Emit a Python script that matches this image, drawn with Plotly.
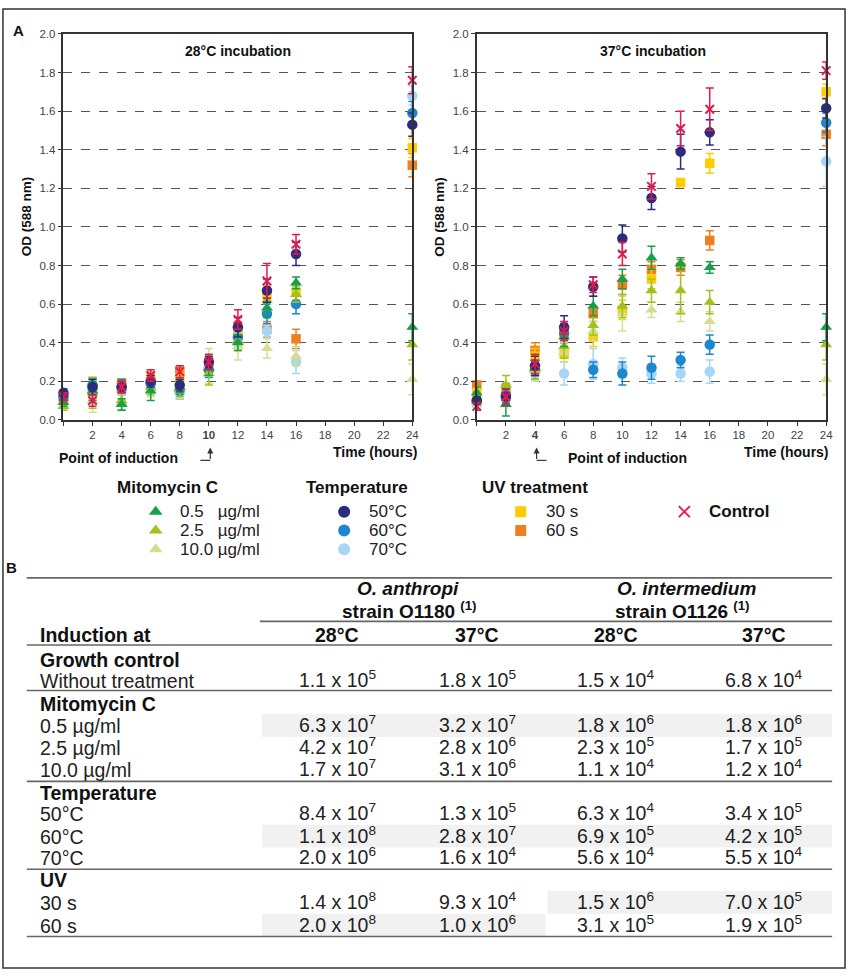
import plotly.graph_objects as go

W, H = 856, 978
FONT = "Arial, Liberation Sans, sans-serif"

# ---------------- data ----------------
hours = [0, 2, 4, 6, 8, 10, 12, 14, 16, 24]
tick_hours = [0, 2, 4, 6, 8, 10, 12, 14, 16, 18, 20, 22, 24]

# 28 °C incubation
mito05_28 = [0.09, 0.15, 0.08, 0.15, 0.17, 0.27, 0.40, 0.58, 0.71, 0.48]
mito05_28_err = [0.02, 0.05, 0.03, 0.05, 0.03, 0.04, 0.04, 0.05, 0.03, 0.07]
mito25_28 = [0.07, 0.14, 0.10, 0.17, 0.16, 0.24, 0.41, 0.62, 0.65, 0.39]
mito25_28_err = [0.02, 0.08, 0.05, 0.04, 0.04, 0.06, 0.05, 0.05, 0.04, 0.08]
mito10_28 = [0.07, 0.10, 0.09, 0.16, 0.15, 0.28, 0.38, 0.37, 0.33, 0.21]
mito10_28_err = [0.02, 0.06, 0.04, 0.04, 0.04, 0.09, 0.07, 0.05, 0.05, 0.08]
t50_28 = [0.14, 0.17, 0.17, 0.20, 0.18, 0.30, 0.48, 0.67, 0.86, 1.53]
t50_28_err = [0.02, 0.04, 0.03, 0.03, 0.03, 0.03, 0.05, 0.06, 0.06, 0.06]
t60_28 = [0.12, 0.18, 0.17, 0.19, 0.15, 0.26, 0.43, 0.55, 0.60, 1.59]
t60_28_err = [0.02, 0.04, 0.04, 0.04, 0.04, 0.04, 0.04, 0.05, 0.05, 0.06]
t70_28 = [0.11, 0.16, 0.15, 0.18, 0.14, 0.27, 0.42, 0.46, 0.30, 1.68]
t70_28_err = [0.02, 0.05, 0.04, 0.04, 0.03, 0.04, 0.04, 0.03, 0.06, 0.05]
uv30_28 = [0.10, 0.17, 0.18, 0.21, 0.22, 0.29, 0.47, 0.65, 0.66, 1.41]
uv30_28_err = [0.02, 0.04, 0.03, 0.04, 0.04, 0.04, 0.04, 0.05, 0.04, 0.05]
uv60_28 = [0.11, 0.16, 0.19, 0.20, 0.25, 0.28, 0.45, 0.47, 0.42, 1.32]
uv60_28_err = [0.02, 0.05, 0.02, 0.04, 0.03, 0.04, 0.05, 0.04, 0.05, 0.06]
ctrl_28 = [0.12, 0.10, 0.17, 0.23, 0.25, 0.30, 0.52, 0.72, 0.91, 1.76]
ctrl_28_err = [0.02, 0.03, 0.03, 0.03, 0.03, 0.04, 0.05, 0.09, 0.05, 0.07]

# 37 °C incubation
mito05_37 = [0.14, 0.08, 0.27, 0.43, 0.59, 0.73, 0.84, 0.81, 0.79, 0.48]
mito05_37_err = [0.03, 0.06, 0.04, 0.05, 0.05, 0.05, 0.06, 0.03, 0.03, 0.07]
mito25_37 = [0.10, 0.18, 0.26, 0.38, 0.49, 0.59, 0.67, 0.67, 0.61, 0.39]
mito25_37_err = [0.02, 0.05, 0.05, 0.06, 0.05, 0.06, 0.06, 0.12, 0.06, 0.08]
mito10_37 = [0.09, 0.12, 0.25, 0.35, 0.46, 0.55, 0.57, 0.56, 0.51, 0.21]
mito10_37_err = [0.02, 0.04, 0.05, 0.05, 0.05, 0.09, 0.04, 0.05, 0.05, 0.08]
t50_37 = [0.10, 0.12, 0.28, 0.48, 0.69, 0.94, 1.15, 1.39, 1.49, 1.615]
t50_37_err = [0.02, 0.04, 0.05, 0.06, 0.05, 0.07, 0.06, 0.09, 0.065, 0.05]
t60_37 = [0.10, 0.13, 0.26, 0.45, 0.26, 0.24, 0.27, 0.31, 0.39, 1.54]
t60_37_err = [0.02, 0.04, 0.05, 0.05, 0.04, 0.06, 0.06, 0.04, 0.05, 0.05]
t70_37 = [0.08, 0.12, 0.24, 0.24, 0.29, 0.27, 0.24, 0.24, 0.25, 1.34]
t70_37_err = [0.02, 0.04, 0.04, 0.06, 0.08, 0.05, 0.05, 0.04, 0.06, 0.13]
uv30_37 = [0.14, 0.15, 0.33, 0.34, 0.43, 0.57, 0.73, 1.23, 1.33, 1.70]
uv30_37_err = [0.03, 0.03, 0.04, 0.04, 0.05, 0.05, 0.05, 0.02, 0.05, 0.04]
uv60_37 = [0.18, 0.16, 0.36, 0.45, 0.55, 0.70, 0.78, 0.79, 0.93, 1.48]
uv60_37_err = [0.02, 0.03, 0.04, 0.05, 0.04, 0.05, 0.04, 0.04, 0.05, 0.06]
ctrl_37 = [0.07, 0.12, 0.29, 0.46, 0.70, 0.86, 1.21, 1.51, 1.61, 1.81]
ctrl_37_err = [0.02, 0.04, 0.05, 0.05, 0.04, 0.06, 0.065, 0.09, 0.11, 0.045]

# Table B
table_sections = ["Growth control", "Mitomycin C", "Temperature", "UV"]
section_sizes = [1, 3, 3, 2]
table_rows = ["Without treatment", "0.5 µg/ml", "2.5 µg/ml", "10.0 µg/ml",
              "50°C", "60°C", "70°C", "30 s", "60 s"]
anthropi_28 = ["1.1e5", "6.3e7", "4.2e7", "1.7e7", "8.4e7", "1.1e8", "2.0e6", "1.4e8", "2.0e8"]
anthropi_37 = ["1.8e5", "3.2e7", "2.8e6", "3.1e6", "1.3e5", "2.8e7", "1.6e4", "9.3e4", "1.0e6"]
intermedium_28 = ["1.5e4", "1.8e6", "2.3e5", "1.1e4", "6.3e4", "6.9e5", "5.6e4", "1.5e6", "3.1e5"]
intermedium_37 = ["6.8e4", "1.8e6", "1.7e5", "1.2e4", "3.4e5", "4.2e5", "5.5e4", "7.0e5", "1.9e5"]

# ---------------- styles ----------------
series = [
    # name, symbol, color, size
    ("uv60", "square", "#f07f1f", 9.5),
    ("uv30", "square", "#ffcc00", 9.5),
    ("t70", "circle", "#a6d6f4", 10.5),
    ("t60", "circle", "#1d87d0", 10.5),
    ("mito10", "triangle-up", "#d5de8e", 10.5),
    ("mito25", "triangle-up", "#9fc31c", 10.5),
    ("mito05", "triangle-up", "#17a04a", 10.5),
    ("t50", "circle", "#2c2b7d", 10.5),
    ("ctrl", "x-thin", "#e31a4c", 8.5),
]
data28 = {
    "mito05": (mito05_28, mito05_28_err), "mito25": (mito25_28, mito25_28_err),
    "mito10": (mito10_28, mito10_28_err), "t50": (t50_28, t50_28_err),
    "t60": (t60_28, t60_28_err), "t70": (t70_28, t70_28_err),
    "uv30": (uv30_28, uv30_28_err), "uv60": (uv60_28, uv60_28_err),
    "ctrl": (ctrl_28, ctrl_28_err),
}
data37 = {
    "mito05": (mito05_37, mito05_37_err), "mito25": (mito25_37, mito25_37_err),
    "mito10": (mito10_37, mito10_37_err), "t50": (t50_37, t50_37_err),
    "t60": (t60_37, t60_37_err), "t70": (t70_37, t70_37_err),
    "uv30": (uv30_37, uv30_37_err), "uv60": (uv60_37, uv60_37_err),
    "ctrl": (ctrl_37, ctrl_37_err),
}


def px(x):
    return x / W


def py(y):
    return 1 - y / H


fig = go.Figure()

for data, xa, ya in [(data28, "x", "y"), (data37, "x2", "y2")]:
    for key, sym, col, size in series:
        vals, err = data[key]
        marker = dict(symbol=sym, color=col, size=size)
        if sym == "x-thin":
            marker["line"] = dict(color=col, width=2)
        else:
            marker["line"] = dict(width=0)
        fig.add_trace(go.Scatter(
            x=hours, y=vals, mode="markers", xaxis=xa, yaxis=ya,
            marker=marker, cliponaxis=False, showlegend=False,
            error_y=dict(type="data", array=err, color=col, thickness=1.5, width=4),
        ))

# ---- custom legend (overlay axis in pixel space) ----
legend_groups = [
    ("Mitomycin C", 116, 157, 179, [("triangle-up", "#17a04a", "0.5\u00a0\u00a0\u00a0µg/ml"),
                                   ("triangle-up", "#9fc31c", "2.5\u00a0\u00a0\u00a0µg/ml"),
                                   ("triangle-up", "#d5de8e", "10.0 µg/ml")]),
    ("Temperature", 307, 347, 370, [("circle", "#2c2b7d", "50°C"),
                                   ("circle", "#1d87d0", "60°C"),
                                   ("circle", "#a6d6f4", "70°C")]),
    ("UV treatment", 484, 525, 548, [("square", "#ffcc00", "30 s"),
                                    ("square", "#f07f1f", "60 s")]),
]
item_y = [512, 531, 550]
annotations = []
for title, tx, mx, lx, items in legend_groups:
    annotations.append(dict(x=px(tx), y=py(487), xref="paper", yref="paper", text="<b>%s</b>" % title,
                            showarrow=False, xanchor="left", yanchor="middle",
                            font=dict(size=17, color="#111", family=FONT)))
    for (sym, col, lab), yy in zip(items, item_y):
        fig.add_trace(go.Scatter(x=[mx], y=[yy], mode="markers", xaxis="x3", yaxis="y3",
                                 marker=dict(symbol=sym, color=col, size=12 if sym != "square" else 11,
                                             line=dict(width=0)),
                                 showlegend=False, hoverinfo="skip"))
        annotations.append(dict(x=px(lx), y=py(yy), xref="paper", yref="paper", text=lab,
                                showarrow=False, xanchor="left", yanchor="middle",
                                font=dict(size=17, color="#222", family=FONT)))
fig.add_trace(go.Scatter(x=[690], y=[512], mode="markers", xaxis="x3", yaxis="y3",
                         marker=dict(symbol="x-thin", size=11, line=dict(color="#e31a4c", width=1.8)),
                         showlegend=False, hoverinfo="skip"))
annotations.append(dict(x=px(713), y=py(512), xref="paper", yref="paper", text="<b>Control</b>",
                        showarrow=False, xanchor="left", yanchor="middle",
                        font=dict(size=17, color="#111", family=FONT)))


# ---- chart text ----
def add_text(x, y, text, size, anchor="center", color="#111", angle=0):
    annotations.append(dict(x=px(x), y=py(y), xref="paper", yref="paper", text=text,
                            showarrow=False, xanchor=anchor, yanchor="middle", textangle=angle,
                            font=dict(size=size, color=color, family=FONT)))


add_text(19, 25, "<b>A</b>", 15, "center")
add_text(12, 568, "<b>B</b>", 15, "center")
add_text(240, 46, "<b>28°C incubation</b>", 14)
add_text(658, 46, "<b>37°C incubation</b>", 14)
add_text(27, 213, "<b>OD (588 nm)</b>", 13.5, angle=-90)
add_text(443, 213, "<b>OD (588 nm)</b>", 13.5, angle=-90)
add_text(57, 458, "<b>Point of induction</b>", 14, "left")
add_text(571, 458, "<b>Point of induction</b>", 14, "left")
add_text(423, 452, "<b>Time (hours)</b>", 14, "right")
add_text(838, 452, "<b>Time (hours)</b>", 14, "right")

shapes = []
# induction arrows: vertical part with arrowhead + horizontal foot
for hx, tx_ in [(212, 202), (541, 551)]:
    annotations.append(dict(x=px(hx), y=py(447), xref="paper", yref="paper",
                            axref="pixel", ayref="pixel", ax=0, ay=13, text="", showarrow=True,
                            arrowhead=2, arrowsize=1, arrowwidth=1.2, arrowcolor="#333"))
    shapes.append(dict(type="line", xref="paper", yref="paper", x0=px(tx_), x1=px(hx),
                       y0=py(460), y1=py(460), line=dict(color="#333", width=1.2)))

# outer border
shapes.append(dict(type="rect", xref="paper", yref="paper", x0=px(3), x1=px(852), y0=py(3), y1=py(974),
                   line=dict(color="#333", width=1.5)))

# ---- table B ----
TFS = 19.5
SUP = 2  # superscript boxes are taller, so lift them to keep baselines aligned
col_x = [340, 481, 621, 770]
cols = [anthropi_28, anthropi_37, intermedium_28, intermedium_37]

add_text(411, 590, "<b><i>O. anthropi</i></b>", 19)
add_text(413, 614 - SUP, "<b>strain O1180 <sup>(1)</sup></b>", 19)
add_text(692, 590, "<b><i>O. intermedium</i></b>", 19)
add_text(688, 614 - SUP, "<b>strain O1126 <sup>(1)</sup></b>", 19)
add_text(38, 637, "<b>Induction at</b>", TFS, "left")
for cx, lab in zip(col_x, ["28°C", "37°C", "28°C", "37°C"]):
    add_text(cx, 637, "<b>%s</b>" % lab, TFS)

section_y = [662, 707, 797, 885]
row_y = [683, 729, 751, 773, 818, 841, 863, 908, 931]

# shaded cells: (row index, x start, x end)
shaded = [(1, 264, 839), (5, 264, 839), (7, 552, 839), (8, 264, 550)]
for ri, x0, x1 in shaded:
    shapes.append(dict(type="rect", xref="paper", yref="paper", layer="below",
                       x0=px(x0), x1=px(x1), y0=py(row_y[ri] - 12), y1=py(row_y[ri] + 11),
                       fillcolor="#f1f1f1", line=dict(width=0)))

for sec, sy in zip(table_sections, section_y):
    add_text(38, sy, "<b>%s</b>" % sec, TFS, "left")

for i, (lab, ry) in enumerate(zip(table_rows, row_y)):
    add_text(38, ry, lab, TFS, "left", color="#222")
    for cx, col in zip(col_x, cols):
        mant, exp = col[i].split("e")
        add_text(cx, ry - SUP, "%s x 10<sup>%s</sup>" % (mant, exp), TFS, color="#222")

for y0, x0 in [(579, 27), (623, 262), (647, 27), (693, 27), (785, 27), (874, 27), (942, 27)]:
    shapes.append(dict(type="line", xref="paper", yref="paper", x0=px(x0), x1=px(839),
                       y0=py(y0), y1=py(y0), line=dict(color="#666", width=1.6)))


# ---- axes ----
def xaxis(domain, bold_tick, anchor):
    ticktext = ["" if t == 0 else ("<b>%d</b>" % t if t == bold_tick else str(t)) for t in tick_hours]
    return dict(domain=domain, range=[0, 24], tickvals=tick_hours, ticktext=ticktext, anchor=anchor,
                ticks="outside", ticklen=4, tickcolor="#333", showline=True, linecolor="#333",
                linewidth=1.5, mirror=True, showgrid=False, zeroline=False,
                tickfont=dict(size=11.5, color="#444", family=FONT))


def yaxis(domain, anchor):
    return dict(domain=domain, range=[0, 2.0], dtick=0.2, tickformat=".1f", anchor=anchor,
                ticks="outside", ticklen=4, tickcolor="#333", showline=True, linecolor="#333",
                linewidth=1.5, mirror=True, showgrid=True, gridcolor="#555", gridwidth=1,
                griddash="dash", zeroline=False,
                tickfont=dict(size=11.5, color="#444", family=FONT))


ydom = [py(419), py(28.3)]
fig.update_layout(
    width=W, height=H, autosize=False,
    margin=dict(l=0, r=0, t=0, b=0),
    paper_bgcolor="white", plot_bgcolor="rgba(0,0,0,0)",
    showlegend=False,
    xaxis=xaxis([px(64), px(415.7)], 10, "y"),
    yaxis=yaxis(ydom, "x"),
    xaxis2=xaxis([px(480.7), px(833)], 4, "y2"),
    yaxis2=yaxis(ydom, "x2"),
    xaxis3=dict(domain=[0, 1], range=[0, W], visible=False, anchor="y3", fixedrange=True),
    yaxis3=dict(domain=[0, 1], range=[H, 0], visible=False, anchor="x3", fixedrange=True),
    annotations=annotations,
    shapes=shapes,
    font=dict(family=FONT),
)

fig.write_html("out.html", config={"displayModeBar": False},
               post_script="document.body.style.margin='0';")
